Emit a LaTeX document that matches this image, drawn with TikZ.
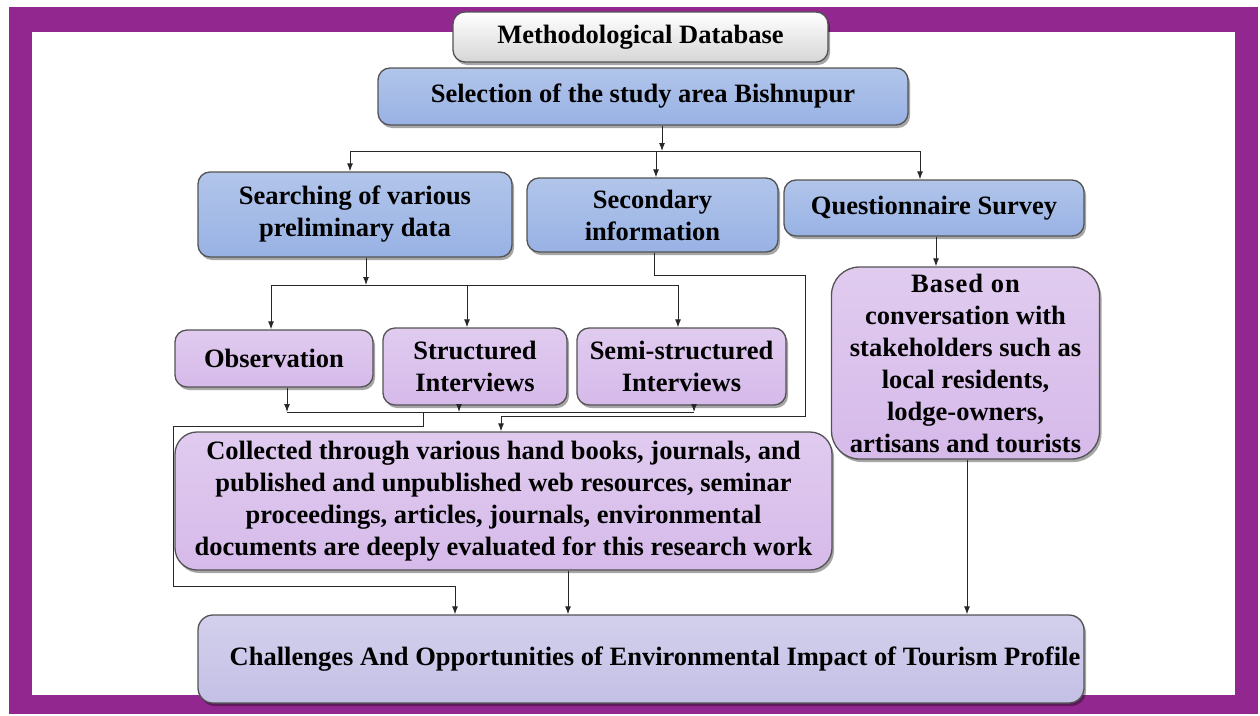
\documentclass[tikz,border=0pt]{standalone}
\usepackage{fontspec}
\setmainfont{Liberation Serif}
\usetikzlibrary{arrows.meta,shadows}
\definecolor{framec}{RGB}{146,39,143}
\definecolor{bluec}{RGB}{152,178,228}
\definecolor{lilac}{RGB}{214,186,234}
\definecolor{lav}{RGB}{196,192,230}
\definecolor{grayc}{RGB}{214,214,214}
\definecolor{linec}{RGB}{40,40,40}
\tikzset{
  basebox/.style={draw=linec!80, line width=1.3pt, rounded corners=12pt, inner sep=0pt,
    align=center, font=\bfseries\fontsize{26.5}{32}\selectfont,
    drop shadow={shadow xshift=2pt, shadow yshift=-3pt, opacity=0.35, fill=black}},
  graybox/.style={basebox, top color=white, bottom color=grayc},
  bluebox/.style={basebox, top color=bluec!75!white, bottom color=bluec},
  lilbox/.style={basebox, top color=lilac!75!white, bottom color=lilac},
  lavbox/.style={basebox, top color=lav!75!white, bottom color=lav},
  ln/.style={draw=linec, line width=1pt},
  arr/.style={ln, -{Latex[length=8pt,width=6pt]}}
}
\begin{document}
\begin{tikzpicture}[x=1pt,y=-1pt]
\useasboundingbox (0,0) rectangle (1260,715);
\fill[white] (0,0) rectangle (1260,715);
\fill[framec] (9,7) rectangle (1258,714);
\fill[white] (32,32) rectangle (1235,695);

\node[graybox, minimum width=375pt, minimum height=50pt] (meth) at (640.5,37) {Methodological Database};
\node[bluebox, minimum width=530pt, minimum height=57pt] (sel) at (643,96.5) {Selection of the study area Bishnupur};
\node[bluebox, minimum width=314pt, minimum height=85pt] (search) at (355,214.5) {Searching of various\\preliminary data};
\node[bluebox, minimum width=251pt, minimum height=74pt] (second) at (652.5,215) {Secondary\\information};
\node[bluebox, minimum width=300pt, minimum height=56pt] (quest) at (934,208) {Questionnaire Survey};
\node[lilbox, rounded corners=28pt, minimum width=268pt, minimum height=192pt] (based) at (965.5,363) {\addfontfeature{LetterSpace=4}Based on\\conversation with\\stakeholders such as\\local residents,\\lodge-owners,\\artisans and tourists};
\node[lilbox, minimum width=198pt, minimum height=57pt] (obs) at (274,358.5) {Observation};
\node[lilbox, minimum width=184pt, minimum height=77pt] (struct) at (475,366.5) {Structured\\Interviews};
\node[lilbox, minimum width=209pt, minimum height=77pt] (semi) at (681.5,366.5) {Semi-structured\\Interviews};
\node[lilbox, rounded corners=22pt, minimum width=657pt, minimum height=138pt] (coll) at (503.5,501) {Collected through various hand books, journals, and\\published and unpublished web resources, seminar\\proceedings, articles, journals, environmental\\documents are deeply evaluated for this research work};
\node[lavbox, rounded corners=15pt, minimum width=886pt, minimum height=88pt] (chal) at (641,659) {\hspace*{28pt}Challenges And Opportunities of Environmental Impact of Tourism Profile};

% selection fan-out
\coordinate (j1) at (662,151);
\coordinate (a1) at (350,151);
\coordinate (a2) at (656,151);
\coordinate (a3) at (920,151);
\draw[arr] (sel.south -| j1) -- (j1);
\draw[ln] (a1) -- (a3);
\draw[arr] (a1) -- (a1 |- search.north);
\draw[arr] (a2) -- (a2 |- second.north);
\draw[arr] (a3) -- (a3 |- quest.north);

% searching fan-out
\coordinate (j2) at (366,285);
\coordinate (b1) at (271,285);
\coordinate (b2) at (467,285);
\coordinate (b3) at (678,285);
\draw[arr] (search.south -| j2) -- (j2);
\draw[ln] (b1) -- (b3);
\draw[arr] (b1) -- (b1 |- obs.north);
\draw[arr] (b2) -- (b2 |- struct.north);
\draw[arr] (b3) -- (b3 |- semi.north);

% secondary route
\coordinate (s1) at (654,275);
\coordinate (s2) at (805,275);
\coordinate (s3) at (805,416);
\coordinate (s4) at (501,416);
\draw[arr] (second.south -| s1) -- (s1) -- (s2) -- (s3) -- (s4) -- (s4 |- coll.north);

% interviews join
\coordinate (c1) at (287,412);
\coordinate (c2) at (459,412);
\coordinate (c3) at (694,412);
\draw[arr] (obs.south -| c1) -- (c1);
\draw[arr] (struct.south -| c2) -- (c2);
\draw[arr] (semi.south -| c3) -- (c3);
\draw[ln] (c1) -- (c3);
\coordinate (d1) at (423,412);
\coordinate (d2) at (423,426);
\coordinate (d3) at (173,426);
\coordinate (d4) at (173,586);
\coordinate (d5) at (455,586);
\draw[arr] (d1) -- (d2) -- (d3) -- (d4) -- (d5) -- (d5 |- chal.north);

% to challenges
\coordinate (e1) at (568,600);
\draw[arr] (coll.south -| e1) -- (e1 |- chal.north);
\coordinate (f1) at (936,250);
\draw[arr] (quest.south -| f1) -- (f1 |- based.north);
\coordinate (g1) at (967,500);
\draw[arr] (based.south -| g1) -- (g1 |- chal.north);
\end{tikzpicture}
\end{document}
